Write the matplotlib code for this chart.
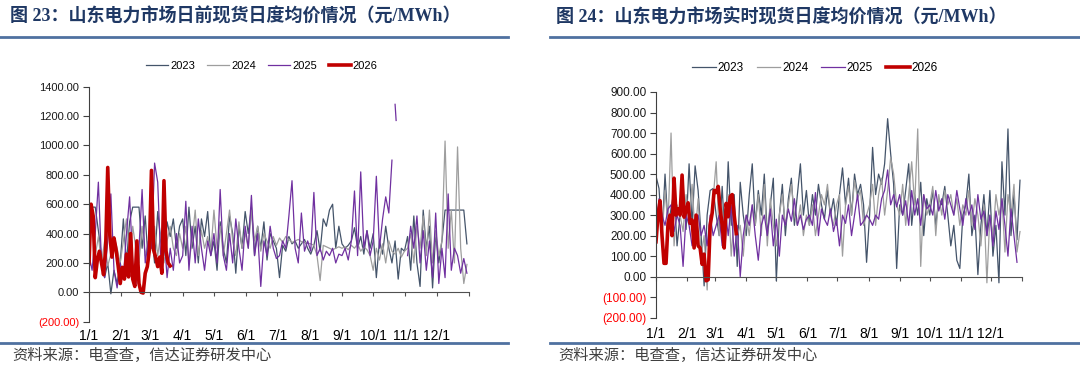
import numpy as np
import matplotlib
matplotlib.use('Agg')
import matplotlib.pyplot as plt
from matplotlib.lines import Line2D

plt.rcParams['font.family'] = ['Liberation Sans', 'Noto Sans CJK SC', 'DejaVu Sans']

nan = np.nan

# ---------------- data ----------------
days = np.arange(0, 365, 3)  # sample day-of-year (every 3 days)
month_days = [0, 31, 59, 90, 120, 151, 181, 212, 243, 273, 304, 334]
month_labels = ['1/1', '2/1', '3/1', '4/1', '5/1', '6/1', '7/1', '8/1', '9/1', '10/1', '11/1', '12/1']
series_names = ['2023', '2024', '2025', '2026']

# Left: day-ahead market daily average price (元/MWh)
da_2023 = [300, 580, 580, 420, 250, 100, 200, -10, 150, 60, 200,
           500, 200, 480, 580, 580, 580, 300, 520, 200,
           400, 200, 550, 350, 250, 480, 380, 500, 300, 450,
           500, 250, 580, 300, 450, 200, 500, 380, 550, 250,
           350, 150, 480, 300, 200, 520, 400, 130, 450, 300, 550,
           400, 580, 250, 450, 300, 480, 220, 400, 350, 300,
           100, 320, 280, 380, 330, 350, 300, 330, 360, 300,
           260, 320, 420, 280, 500, 450, 560, 600, 300, 450,
           330, 300, 320, 350, 440, 300, 380, 260, 420, 300,
           400, 100, 350, 260, 450, 300, 200, 350, 90, 300, 280,
           380, 150, 520, 200, 40, 560, 300, 450, 30, 400,
           200, 350, 560, 560, 560, 560, 560, 560, 560, 330]
da_2024 = [200, 560, 250, 380, 200, 350, 180, 260, 380, 300, 200,
           350, 500, 250, 450, 300, 200, 450, 250, 350,
           300, 450, 250, 400, 200, 350, 450, 300, 250, 400,
           300, 450, 200, 350, 560, 250, 420, 300, 380, 270,
           560, 300, 450, 250, 400, 560, 350, 250, 480, 300, 400,
           300, 560, 350, 450, 280, 400, 350, 300, 380, 320,
           370, 340, 380, 360, 340, 350, 360, 345, 340, 335,
           330, 320, 250, 80, 320, 310, 300, 290, 300, 310,
           300, 310, 290, 320, 300, 330, 280, 310, 290, 250,
           150, 300, 220, 330, 200, 350, 280, 260, 300, 240, 280,
           300, 400, 200, 450, 300, 520, 250, 560, 200, 420,
           250, 350, 1030, 300, 560, 200, 990, 300, 60, 190]
da_2025 = [250, 150, 400, 750, 200, 100, 350, 670, 150, 30, 200,
           100, 400, 650, 200, 50, 300, 700, 200, 350,
           300, 880, 750, 200, 400, 100, 300, 150, 400, 200,
           250, 620, 150, 450, 200, 500, 300, 150, 350, 250,
           400, 200, 700, 250, 150, 400, 200, 500, 300, 150, 450,
           300, 660, 250, 400, 40, 350, 250, 450, 300, 230,
           250, 350, 300, 520, 760, 300, 200, 540, 280, 350,
           280, 680, 250, 300, 220, 280, 250, 300, 200, 260,
           250, 300, 220, 350, 690, 250, 820, 300, 420, 250,
           350, 790, 300, 500, 650, 540, 900, nan, nan, nan, nan,
           250, 450, 300, 520, 200, 420, 150, 350, 100, 540,
           60, 300, 100, 670, 150, 300, 250, 130, 230, 130]
da_2025_spike_days = [294, 295]
da_2025_spike_vals = [1280, 1170]
da_2026_days = np.arange(0, 79, 2)
da_2026 = [195, 600, 520, 100, 220, 280, 200, 120, 300, 850,
           390, 240, 370, 290, 180, 60, 170, 90, 260, 105,
           400, 90, 40, 350, 60, 0, -5, 130, 175, 290,
           830, 290, 240, 175, 240, 130, 760, 280, 200, 180]

# Right: real-time market daily average price (元/MWh)
rt_2023 = [490, 430, 200, 500, 250, 330, 420, 150, 300, 450, 230,
           550, 250, 540, 420, 200, -45, 300, 420, 430,
           300, 200, 440, 150, 560, 250, 400, 50, 460, 300,
           200, 400, 550, 250, 420, 300, 500, 200, 350, 480,
           -20, 300, 450, 200, 380, 480, 250, 400, 550, 300, 420,
           250, 400, 300, 450, 350, 280, 420, 300, 380, 250,
           400, 530, 350, 480, 300, 500, 400, 450, 350, 70,
           300, 630, 400, 500, 450, 550, 770, 600, 450, 40,
           350, 300, 420, 550, 250, 400, 300, 460, 200, 380,
           300, 420, 250, 380, 350, 440, 300, 150, 250, 80, 40,
           300, 350, 500, 200, 300, 10, 250, 400, 200, 420,
           100, 250, -30, 560, 300, 720, 200, 400, 180, 470]
rt_2024 = [300, 350, 200, 420, 250, 700, 150, 350, 300, 220, 400,
           280, 450, 200, 380, 100, 200, -65, 250, 380,
           560, 200, 350, 150, 400, 100, 300, 200, 250, 100,
           300, 200, 350, 250, 400, 200, 450, 150, 380, 250,
           150, 300, 400, 250, 350, 450, 300, 250, 350, 200, 300,
           250, 350, 200, 300, 400, 350, 450, 300, 250, 350,
           400, 100, 350, 440, 300, 470, 380, 420, 250, 300,
           350, 450, 250, 400, 480, 300, 420, 580, 500, 350,
           300, 450, 250, 400, 560, 350, 720, 50, 400, 300,
           350, 440, 200, 400, 300, 420, 350, 400, 300, 380, 250,
           350, 300, 420, 250, 380, 300, 150, 350, -30, 300,
           200, 400, 300, 380, 120, 400, 300, 450, 120, 220]
rt_2025 = [200, 380, 300, 250, 330, 350, 220, 300, 250, 50, 300,
           250, 150, 280, 300, 200, 250, 150, 300, 200,
           250, 300, 150, 330, 200, 350, 100, 250, 0, 200,
           300, 250, 350, 200, 80, 250, 300, 200, 330, 150,
           280, 100, 300, 250, 330, 270, 380, 250, 300, 230, 280,
           300, 250, 410, 200, 330, 280, 250, 330, 220, 280,
           150, 300, 260, 350, 200, 300, 400, 250, 270, 300,
           280, 250, 300, 280, 380, 420, 520, 350, 400, 340,
           400, 300, 370, 250, 420, 300, 380, 250, 400, 330,
           350, 300, 420, 320, 380, 280, 400, 350, 300, 420, 330,
           250, 380, 300, 350, 230, 400, 280, 320, 200, 300,
           150, 320, 230, 380, 250, 100, 330, 200, 70, nan]
rt_2026_days = np.arange(0, 81, 2)
rt_2026 = [170, 300, 370, 200, 65, 65, 260, 300, 200, 480,
           300, 330, 300, 495, 290, 320, 360, 260, 276, 140,
           300, 150, 140, 60, 110, -20, -15, 250, 310, 420,
           410, 440, 330, 250, 140, 357, 292, 390, 400, 300, 210]

titles = ['图 23：山东电力市场日前现货日度均价情况（元/MWh）',
          '图 24：山东电力市场实时现货日度均价情况（元/MWh）']
source_text = '资料来源：电查查，信达证券研发中心'

# ---------------- style ----------------
C23, C24, C25, C26 = '#44546A', '#9E9E9E', '#7030A0', '#C00000'
BAR = '#4F71A0'
W, H = 1080, 368

fig = plt.figure(figsize=(W / 100, H / 100), dpi=100)


def rect(x0, x1, ytop, ybot):
    return [x0 / W, 1 - ybot / H, (x1 - x0) / W, (ybot - ytop) / H]


def fmt(v):
    return f'({abs(v):.2f})' if v < 0 else f'{v:.2f}'


def draw(ax, s23, s24, s25, rdays, r26, ylim, ystep, fs, leg_xy, xpad, extra=None):
    ax.plot(days, s23, color=C23, lw=0.9, label=series_names[0])
    ax.plot(days, s24, color=C24, lw=0.9, label=series_names[1])
    ax.plot(days, s25, color=C25, lw=0.9, label=series_names[2])
    if extra is not None:
        ax.plot(extra[0], extra[1], color=C25, lw=0.9)
    ax.plot(rdays, r26, color=C26, lw=2.6, label=series_names[3])
    ax.set_xlim(0, 365)
    ax.set_ylim(*ylim)
    yt = np.arange(ylim[0], ylim[1] + 1, ystep)
    ax.set_yticks(yt)
    ax.set_yticklabels([fmt(v) for v in yt], fontsize=fs)
    for v, t in zip(yt, ax.get_yticklabels()):
        t.set_color('#FF0000' if v < 0 else '#1A1A1A')
    ax.set_xticks(month_days + [365])
    ax.set_xticklabels(month_labels + [''], fontsize=fs, color='#1A1A1A')
    for s in ['top', 'right']:
        ax.spines[s].set_visible(False)
    ax.spines['left'].set_color('#404040')
    ax.spines['left'].set_linewidth(0.8)
    ax.spines['bottom'].set_position(('data', 0))
    ax.spines['bottom'].set_color('#505050')
    ax.spines['bottom'].set_linewidth(0.8)
    ax.tick_params(axis='y', direction='out', length=4, width=0.8, color='#404040', pad=3)
    ax.tick_params(axis='x', direction='out', length=3, width=0.8, color='#505050', pad=xpad)
    ax.set_facecolor('none')
    ax.legend(loc='center', bbox_to_anchor=(leg_xy[0] / W, 1 - leg_xy[1] / H),
              bbox_transform=fig.transFigure, ncol=4, frameon=False, fontsize=fs,
              handlelength=2.0, handletextpad=0.15, columnspacing=1.1, borderpad=0)


axL = fig.add_axes(rect(89, 469, 86.7, 321.7))
draw(axL, da_2023, da_2024, da_2025, da_2026_days, da_2026, (-200, 1400), 200, 8,
     (262, 66), 23.5, extra=(da_2025_spike_days, da_2025_spike_vals))

axR = fig.add_axes(rect(656, 1022, 92, 317.7))
draw(axR, rt_2023, rt_2024, rt_2025, rt_2026_days, rt_2026, (-200, 900), 100, 8.5,
     (815, 68), 33)

# titles, rules, sources
for x0, x1, tx, t in [(0, 508, 10, titles[0]), (550, 1080, 556, titles[1])]:
    fig.text(tx / W, 1 - 17 / H, t, fontsize=13, fontweight='bold', color='#1F3864',
             va='center', ha='left', family=['Liberation Serif', 'Noto Sans CJK SC'])
    fig.add_artist(Line2D([x0 / W, x1 / W], [1 - 37 / H] * 2, transform=fig.transFigure,
                          color=BAR, lw=2))
    fig.add_artist(Line2D([x0 / W, x1 / W], [1 - 343 / H] * 2, transform=fig.transFigure,
                          color=BAR, lw=2))
    fig.text((tx + 2) / W, 1 - 355 / H, source_text, fontsize=11, color='#404040',
             style='italic', va='center', ha='left', family=['Noto Sans CJK SC', 'DejaVu Sans'])

fig.savefig('out.png', dpi=100)
